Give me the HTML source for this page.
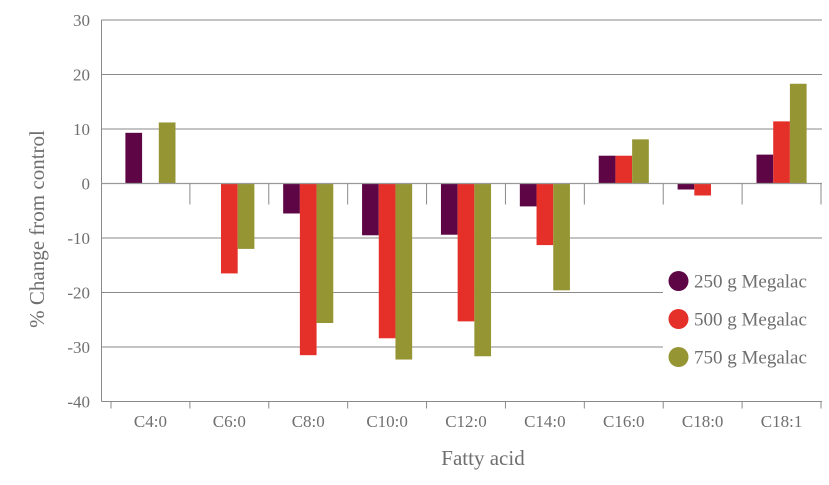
<!DOCTYPE html>
<html><head><meta charset="utf-8"><style>
html,body{margin:0;padding:0;background:#fff;}
svg text{font-family:"Liberation Serif","DejaVu Serif",serif;fill:#6f6f6f;}
</style></head><body>
<svg id="chart" width="829" height="480" viewBox="0 0 829 480" xmlns="http://www.w3.org/2000/svg">
<g id="grid"></g>
<g id="bars"></g>
<g id="axes"></g>
<text x="0" y="0" transform="translate(44,229) rotate(-90)" text-anchor="middle" font-size="21">% Change from control</text>
<text x="483" y="465" text-anchor="middle" font-size="21">Fatty acid</text>
<g id="legend"></g>
</svg>
<script>
const categories = ["C4:0","C6:0","C8:0","C10:0","C12:0","C14:0","C16:0","C18:0","C18:1"];
const series250 = [9.3, 0, -5.5, -9.5, -9.4, -4.2, 5.1, -1.1, 5.3];
const series500 = [0, -16.5, -31.5, -28.4, -25.3, -11.3, 5.1, -2.2, 11.4];
const series750 = [11.2, -12, -25.6, -32.3, -31.7, -19.6, 8.1, 0, 18.3];
const seriesNames = ["250 g Megalac","500 g Megalac","750 g Megalac"];
const yTicks = [30,20,10,0,-10,-20,-30,-40];

const NS="http://www.w3.org/2000/svg";
const colors=["#5e0545","#e5302a","#969534"];
const allSeries=[series250,series500,series750];
const x0=111, x1=821, axisX=101.5, yMax=30, yMin=-40, yTop=20, yBot=401.5;
const bw=(x1-x0)/categories.length;
function yS(v){return yTop+(yMax-v)/(yMax-yMin)*(yBot-yTop);}
function xC(i){return x0+bw*(i+0.5);}
function mk(tag,attrs,parent){const e=document.createElementNS(NS,tag);for(const k in attrs)e.setAttribute(k,attrs[k]);parent.appendChild(e);return e;}
const grid=document.getElementById('grid'),bars=document.getElementById('bars'),axes=document.getElementById('axes'),legend=document.getElementById('legend');
yTicks.forEach(t=>{
  const y=yS(t);
  if(t!==0&&t!==yMin){
    const xe=(t<=-20&&t>=-30)?663:x1+1;
    const l=mk('line',{x1:axisX,x2:xe,y1:y,y2:y,stroke:'#8a8a8a','stroke-width':1},grid);
    
    
  }
  const tx=mk('text',{x:90,y:y+6,'text-anchor':'end','font-size':17},axes);
  tx.textContent=t;
  
  
});
const barW=16.7;
categories.forEach((c,i)=>{
  allSeries.forEach((s,j)=>{
    const v=s[i]; if(v===0)return;
    const x=xC(i)-1.5*barW+j*barW;
    const y=Math.min(yS(v),yS(0)), h=Math.abs(yS(v)-yS(0));
    const r=mk('rect',{x:x,y:y,width:barW,height:h,fill:colors[j]},bars);
    
    
  });
  const tx=mk('text',{x:xC(i),y:427,'text-anchor':'middle','font-size':17},axes);
  tx.textContent=c;
  
  
});
mk('line',{x1:axisX,x2:axisX,y1:yTop,y2:yBot,stroke:'#8a8a8a','stroke-width':1},axes);
mk('line',{x1:axisX,x2:x1+1,y1:yS(0),y2:yS(0),stroke:'#999','stroke-width':1.3},axes);
mk('line',{x1:axisX,x2:x1+1,y1:yBot,y2:yBot,stroke:'#8a8a8a','stroke-width':1},axes);
for(let i=1;i<=categories.length;i++){
  const x=x0+bw*i;
  mk('line',{x1:x,x2:x,y1:yS(0),y2:yS(0)+21,stroke:'#8a8a8a','stroke-width':1},axes);
  mk('line',{x1:x,x2:x,y1:yBot,y2:yBot+7,stroke:'#8a8a8a','stroke-width':1},axes);
}
mk('line',{x1:x0,x2:x0,y1:yBot,y2:yBot+7,stroke:'#8a8a8a','stroke-width':1},axes);
seriesNames.forEach((n,j)=>{
  const cy=281+j*38;
  const c=mk('circle',{cx:678.5,cy:cy,r:10,fill:colors[j]},legend);
  
  
  const t=mk('text',{x:694,y:cy+6.5,'font-size':19},legend);
  t.textContent=n;
  
  
});
</script>
</body></html>
